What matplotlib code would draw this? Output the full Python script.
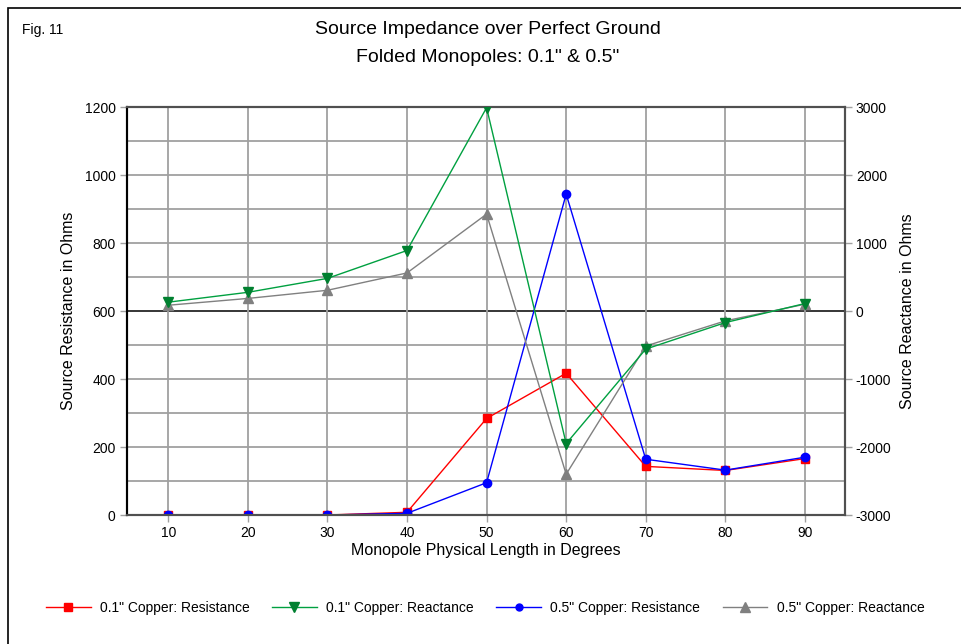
import matplotlib
matplotlib.use("Agg")
import matplotlib.pyplot as plt
from matplotlib.patches import Rectangle
from matplotlib.lines import Line2D

plt.rcParams["font.family"] = ["Liberation Sans", "DejaVu Sans"]
plt.rcParams["axes.unicode_minus"] = False

# Monopole physical length (degrees)
length_deg = [10, 20, 30, 40, 50, 60, 70, 80, 90]

# Source resistance, ohms (left axis)
res_01 = [0, 0, 0, 8, 284, 417, 143, 131, 166]
res_05 = [0, 0, 0, 5, 95, 944, 164, 132, 170]

# Source reactance, ohms (right axis)
reac_01 = [130, 275, 480, 890, 2990, -1950, -560, -170, 110]
reac_05 = [85, 185, 305, 560, 1425, -2400, -515, -145, 100]

res_ticks = [0, 200, 400, 600, 800, 1000, 1200]
reac_ticks = [-3000, -2000, -1000, 0, 1000, 2000, 3000]

GRID = "#a0a0a0"
AXC = "#505050"

fig = plt.figure(figsize=(9.61, 6.44), dpi=100, facecolor="white")

# outer frame of the figure (runs off the right/bottom edges)
fig.patches.append(Rectangle((8 / 961, -0.05), 1.1, 1 - 8 / 644 + 0.05,
                             transform=fig.transFigure, fill=False,
                             edgecolor="black", linewidth=1.2, zorder=0))

ax = fig.add_axes([0.132, 0.2003, 0.747, 0.6335])
ax2 = ax.twinx()

ax.set_xlim(4.8, 95)
ax.set_ylim(0, 1200)
ax2.set_ylim(-3000, 3000)

# grid
for yv in range(100, 1200, 100):
    ax.axhline(yv, color="black" if yv == 600 else GRID,
               linewidth=1.1 if yv == 600 else 1.3, zorder=1)
for xv in length_deg:
    ax.axvline(xv, color=GRID, linewidth=1.3, zorder=1)

ax.plot(length_deg, res_01, color="#ff0000", marker="s", markersize=6,
        linewidth=1.0, zorder=4, label="0.1\" Copper: Resistance")
ax.plot(length_deg, res_05, color="#0000ff", marker="o", markersize=6,
        linewidth=1.0, zorder=4, label="0.5\" Copper: Resistance")
ax2.plot(length_deg, reac_01, color="#00a040", marker="v", markersize=7,
         markerfacecolor="#008030", markeredgecolor="#008030",
         linewidth=1.0, zorder=4, label="0.1\" Copper: Reactance")
ax2.plot(length_deg, reac_05, color="#808080", marker="^", markersize=7,
         linewidth=1.0, zorder=3, label="0.5\" Copper: Reactance")

ax.set_xticks(length_deg)
ax.set_yticks(res_ticks)
ax2.set_yticks(reac_ticks)
for a in (ax, ax2):
    a.tick_params(labelsize=10, length=5, width=1, color=GRID, pad=3)
    for side in ("top", "bottom", "right"):
        a.spines[side].set_color(AXC)
        a.spines[side].set_linewidth(1.5)
    a.spines["left"].set_color("black")
    a.spines["left"].set_linewidth(1.5)
ax.spines["top"].set_color("#303030")

ax.set_xlabel("Monopole Physical Length in Degrees", fontsize=11.5, labelpad=2)
ax.set_ylabel("Source Resistance in Ohms", fontsize=11.5, labelpad=6)
ax2.set_ylabel("Source Reactance in Ohms", fontsize=11.5, labelpad=6)

fig.text(22 / 961, 1 - 30 / 644, "Fig. 11", fontsize=10, va="center", ha="left")
fig.text(488 / 961, 1 - 30 / 644, "Source Impedance over Perfect Ground",
         fontsize=14, ha="center", va="center")
fig.text(488 / 961, 1 - 57 / 644, "Folded Monopoles: 0.1\" & 0.5\"",
         fontsize=14, ha="center", va="center")

handles = [
    Line2D([0], [0], color="#ff0000", marker="s", markersize=6, lw=1.0),
    Line2D([0], [0], color="#00a040", marker="v", markersize=7, lw=1.0,
           markerfacecolor="#008030", markeredgecolor="#008030"),
    Line2D([0], [0], color="#0000ff", marker="o", markersize=5, lw=1.0),
    Line2D([0], [0], color="#808080", marker="^", markersize=7, lw=1.0),
]
labels = ["0.1\" Copper: Resistance", "0.1\" Copper: Reactance",
          "0.5\" Copper: Resistance", "0.5\" Copper: Reactance"]
fig.legend(handles, labels, loc="center", bbox_to_anchor=(0.505, 1 - 608 / 644),
           ncol=4, frameon=False, fontsize=10, handlelength=3.2,
           handletextpad=0.7, columnspacing=1.6)

fig.savefig("out.png", dpi=100, facecolor="white")
